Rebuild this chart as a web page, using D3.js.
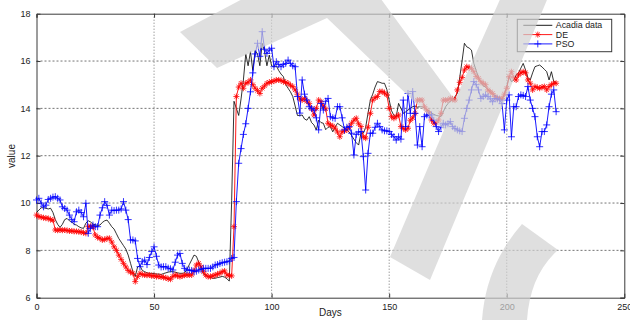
<!DOCTYPE html>
<html>
<head>
<meta charset="utf-8">
<script src="https://cdn.jsdelivr.net/npm/d3@7"></script>
<style>
  body { margin: 0; background: #fff; }
  text { font-family: "Liberation Sans", Arial, sans-serif; }
</style>
</head>
<body>
<svg id="chart" width="630" height="320"></svg>
<script>
// values, one per day (0..221)
const acadia = [
  9.6, 9.7, 9.8, 9.8, 9.78, 9.75, 9.78, 9.6, 9.3, 9.1,
  8.97, 9.1, 9.3, 9.35, 9.25, 9.2, 9.1, 9.07, 9.0, 8.95,
  8.93, 9.15, 9.25, 9.2, 9.11, 9.08, 9.05, 9.07, 9.18, 9.25,
  9.28, 9.15, 9.0, 8.9, 8.7, 8.5, 8.35, 8.2, 8.05, 7.8,
  7.45, 7.1, 6.9, 7.3, 7.35, 7.15, 7.1, 7.05, 7.03, 7.03,
  7.02, 7.0, 7.0, 6.98, 7.02, 7.05, 7.08, 7.1, 7.1, 7.08,
  7.05, 7.03, 7.03, 7.05, 7.2, 7.4, 7.6, 7.8, 7.75, 7.5,
  7.3, 7.0, 6.95, 6.9, 6.85, 6.82, 6.82, 6.85, 6.87, 6.9,
  6.87, 6.8, 6.7, 10.1, 14.3, 14.0, 13.7, 14.4, 15.2, 16.3,
  15.8, 16.4, 15.6, 16.45, 16.3, 15.8, 16.75, 16.4, 15.8, 16.25,
  15.8, 15.75, 15.8, 15.6, 15.45, 15.34, 15.0, 14.85, 14.7, 14.5,
  14.1, 13.7, 13.7, 13.72, 13.55, 13.5, 13.65, 13.4, 13.3, 13.09,
  13.5, 13.4, 13.37, 13.1, 13.2, 13.23, 13.01, 13.2, 13.37, 13.3,
  13.23, 13.15, 13.09, 13.0, 12.85, 12.7, 12.55, 12.45, 12.95, 12.95,
  13.2, 13.8, 14.35, 14.6, 14.9, 15.13, 15.1, 15.06, 15.06, 14.8,
  14.35, 13.9, 13.7, 13.65, 14.21, 14.0, 13.79, 13.85, 13.93, 14.0,
  14.07, 14.1, 14.05, 14.07, 14.07, 14.0, 13.95, 13.9, 13.8, 13.75,
  13.7, 13.68, 13.65, 13.85, 14.07, 14.2, 14.3, 14.35, 14.5, 14.63,
  15.3, 16.0, 16.75, 16.6, 16.55, 16.46, 15.9, 15.6, 15.3, 15.1,
  14.95, 14.9, 14.8, 14.75, 14.6, 14.55, 14.5, 14.45, 14.35, 14.6,
  14.92, 15.34, 15.13, 15.2, 15.4, 15.5, 15.7, 15.9, 15.62, 15.3,
  15.2, 15.5, 15.76, 15.8, 15.83, 15.75, 15.65, 15.55, 15.2, 15.55,
  15.13, 15.1
];

const de = [
  9.49, 9.43, 9.4, 9.38, 9.36, 9.35, 9.3, 9.28, 8.86, 8.85,
  8.86, 8.85, 8.86, 8.84, 8.82, 8.82, 8.8, 8.8, 8.79, 8.77,
  8.75, 8.72, 9.0, 9.02, 8.98, 8.65, 8.55, 8.51, 8.44, 8.46,
  8.5, 8.51, 8.35, 8.15, 8.0, 7.8, 7.62, 7.45, 7.3, 7.15,
  7.08, 7.03, 6.68, 6.89, 7.03, 6.98, 6.96, 6.95, 6.96, 6.92,
  6.93, 6.89, 6.9, 6.88, 6.86, 6.84, 6.8, 6.78, 6.9, 6.96,
  6.92, 6.89, 6.92, 6.95, 6.96, 6.96, 6.96, 7.15, 7.38, 7.45,
  7.3, 7.1, 6.95, 6.89, 6.89, 6.92, 6.96, 7.0, 7.03, 7.1,
  7.13, 6.96, 6.94, 6.92, 9.0, 14.5, 14.9, 15.06, 14.85, 15.06,
  15.1, 15.2, 15.0, 14.85, 14.75, 14.63, 14.85, 14.95, 15.06, 15.1,
  15.13, 15.15, 15.2, 15.2, 15.18, 15.13, 15.1, 15.06, 14.98, 14.92,
  14.78, 14.6, 14.4, 14.35, 14.42, 14.3, 14.21, 13.98, 13.72, 14.0,
  14.35, 14.28, 14.1, 13.98, 13.37, 13.3, 13.25, 13.16, 13.0, 12.8,
  13.01, 13.05, 13.09, 13.2, 13.37, 13.5, 13.58, 13.35, 13.23, 12.8,
  12.74, 13.2, 13.79, 14.35, 14.45, 14.5, 14.71, 14.71, 14.65, 14.57,
  14.0, 13.65, 13.58, 13.65, 13.72, 13.23, 13.15, 13.09, 13.16, 13.5,
  13.6, 13.79, 14.35, 14.35, 14.35, 14.07, 13.93, 13.8, 13.51, 13.37,
  13.4, 13.51, 13.79, 14.35, 14.35, 14.35, 14.42, 14.38, 14.35, 14.78,
  15.1, 15.3, 15.62, 15.76, 15.72, 15.69, 15.55, 15.35, 15.27, 15.13,
  15.06, 15.0, 14.78, 14.7, 14.63, 14.5, 14.42, 14.42, 14.42, 14.6,
  14.85, 15.34, 15.55, 15.3, 15.2, 15.41, 15.5, 15.55, 15.5, 15.2,
  15.06, 14.78, 14.92, 14.88, 14.85, 14.9, 14.92, 14.78, 14.92, 15.0,
  15.06, 15.06
];

const pso = [
  10.13, 10.2, 10.0, 9.84, 9.91, 10.15, 10.2, 10.25, 10.27, 10.2,
  10.13, 9.84, 9.77, 9.7, 9.49, 9.3, 9.21, 9.63, 9.7, 9.6,
  9.42, 9.99, 8.72, 8.93, 9.07, 9.0, 9.0, 9.49, 9.8, 10.06,
  9.9, 9.49, 9.7, 9.68, 9.7, 9.7, 9.75, 10.06, 9.7, 9.3,
  8.44, 8.44, 8.4, 7.66, 7.31, 7.52, 7.59, 7.4, 7.7, 7.95,
  8.15, 7.75, 7.38, 7.3, 7.31, 7.31, 7.25, 7.22, 7.17, 7.5,
  7.8, 7.87, 7.45, 7.24, 7.17, 7.17, 7.15, 7.1, 7.12, 7.17,
  7.2, 7.24, 7.24, 7.24, 7.24, 7.3, 7.38, 7.4, 7.45, 7.48,
  7.5, 7.52, 7.55, 7.66, 7.7, 10.06, 11.68, 12.3, 12.9, 13.35,
  14.0, 14.7, 15.5, 16.3, 16.75, 16.2, 17.24, 16.5, 16.32, 16.46,
  16.54, 15.76, 15.97, 15.85, 15.76, 15.85, 15.9, 16.04, 15.9, 15.8,
  15.76, 14.5, 13.8, 15.2, 14.6, 14.35, 14.07, 14.0, 13.93, 13.6,
  13.09, 14.21, 13.93, 14.3, 14.42, 13.65, 13.6, 13.58, 14.07, 14.07,
  13.6, 13.09, 13.2, 13.23, 12.95, 12.03, 12.9, 13.0, 13.02, 11.96,
  10.55, 12.1, 12.95, 12.95, 13.2, 13.37, 13.23, 13.09, 13.05, 13.05,
  13.02, 12.9, 12.8, 12.66, 12.8, 12.7, 14.35, 13.23, 14.63, 13.79,
  14.71, 13.79, 12.45, 13.23, 12.38, 13.65, 13.72, 13.72, 13.72, 13.5,
  13.23, 13.02, 13.2, 13.37, 13.3, 13.35, 13.44, 13.23, 13.15, 13.09,
  13.05, 13.02, 13.58, 14.0, 14.35, 14.78, 15.13, 15.0, 14.78, 14.42,
  14.5, 14.57, 14.5, 14.4, 14.28, 14.42, 14.4, 14.35, 14.2, 13.09,
  14.35, 14.57, 12.8, 14.07, 14.07, 14.5, 14.57, 14.55, 14.5, 14.92,
  14.35, 14.0, 13.65, 12.8, 12.38, 13.02, 13.02, 13.3, 14.07, 14.6,
  14.78, 13.86
];

const xTicks = [0, 50, 100, 150, 200, 250];
const yTicks = [6, 8, 10, 12, 14, 16, 18];
const seriesNames = ["Acadia data", "DE", "PSO"];

const width = 630;
const height = 320;
const margin = {top: 13.7, right: 5.7, bottom: 22.3, left: 36.5};
const innerW = width - margin.left - margin.right;
const innerH = height - margin.top - margin.bottom;

const svg = d3.select("#chart");
svg.append("rect").attr("width", width).attr("height", height).attr("fill", "#fff");

const g = svg.append("g").attr("transform", `translate(${margin.left},${margin.top})`);

const x = d3.scaleLinear().domain([0, 250]).range([0, innerW]);
const y = d3.scaleLinear().domain([6, 18]).range([innerH, 0]);

// grid (MATLAB dotted)
g.append("g")
  .selectAll("line")
  .data(xTicks.slice(1, -1))
  .join("line")
  .attr("x1", d => x(d)).attr("x2", d => x(d))
  .attr("y1", 0).attr("y2", innerH)
  .attr("stroke", "#505050").attr("stroke-width", 0.8)
  .attr("stroke-dasharray", "1,2");

g.append("g")
  .selectAll("line")
  .data(yTicks.slice(1, -1))
  .join("line")
  .attr("x1", 0).attr("x2", innerW)
  .attr("y1", d => y(d)).attr("y2", d => y(d))
  .attr("stroke", "#505050").attr("stroke-width", 0.8)
  .attr("stroke-dasharray", "2,2");

// axes
g.append("g")
  .attr("transform", `translate(0,${innerH})`)
  .call(d3.axisBottom(x).tickValues(xTicks).tickSize(-4).tickPadding(6).tickFormat(d3.format("d")));
g.append("g")
  .call(d3.axisLeft(y).tickValues(yTicks).tickSize(-4).tickPadding(6).tickFormat(d3.format("d")));
g.append("g").call(d3.axisTop(x).tickValues(xTicks).tickSize(-4).tickFormat(""));
g.append("g").attr("transform", `translate(${innerW},0)`)
  .call(d3.axisRight(y).tickValues(yTicks).tickSize(-4).tickFormat(""));

g.selectAll(".domain").attr("stroke", "#3a3a3a").attr("stroke-width", 1);
g.selectAll(".tick line").attr("stroke", "#3a3a3a");
g.selectAll(".tick text").attr("fill", "#222").attr("font-size", "9px");
g.selectAll(".tick").filter(d => d === 18 || d === 250).select("line").remove();

// labels
svg.append("text")
  .attr("x", margin.left + x(125))
  .attr("y", 316)
  .attr("text-anchor", "middle")
  .attr("font-size", "10px")
  .attr("fill", "#222")
  .text("Days");

svg.append("text")
  .attr("transform", "rotate(-90)")
  .attr("x", -156)
  .attr("y", 15)
  .attr("text-anchor", "middle")
  .attr("font-size", "10px")
  .attr("fill", "#222")
  .text("value");

// series
const days = d3.range(acadia.length);

function drawLine(values, color, w) {
  g.append("path")
    .datum(days)
    .attr("fill", "none")
    .attr("stroke", color)
    .attr("stroke-width", w)
    .attr("stroke-linejoin", "round")
    .attr("d", d3.line().x(i => x(i)).y(i => y(values[i])));
}

function plusPath(r) {
  return `M${-r},0H${r}M0,${-r}V${r}`;
}
function starPath(r) {
  const k = r * 0.72;
  return `M${-r},0H${r}M0,${-r}V${r}M${-k},${-k}L${k},${k}M${-k},${k}L${k},${-k}`;
}

function drawMarkers(values, color, shape) {
  g.append("g")
    .selectAll("path")
    .data(days)
    .join("path")
    .attr("transform", i => `translate(${x(i)},${y(values[i])})`)
    .attr("d", shape)
    .attr("fill", "none")
    .attr("stroke", color)
    .attr("stroke-width", 0.8);
}

drawLine(acadia, "#000", 0.8);
drawLine(de, "#ff0000", 0.9);
drawMarkers(de, "#ff0000", starPath(3));
drawLine(pso, "#0000ff", 0.9);
drawMarkers(pso, "#0000ff", plusPath(3.5));

// legend
const legend = svg.append("g").attr("transform", "translate(517.3,19.3)");
legend.append("rect")
  .attr("width", 94.4).attr("height", 32.4)
  .attr("fill", "#fff").attr("stroke", "#3a3a3a").attr("stroke-width", 1);

const legendColors = ["#000", "#ff0000", "#0000ff"];
const legendShapes = [null, starPath(3), plusPath(3.5)];
seriesNames.forEach((name, i) => {
  const ly = 6 + i * 9.3;
  legend.append("line")
    .attr("x1", 6).attr("x2", 35).attr("y1", ly).attr("y2", ly)
    .attr("stroke", legendColors[i]).attr("stroke-width", 0.9);
  if (legendShapes[i]) {
    legend.append("path")
      .attr("transform", `translate(20.5,${ly})`)
      .attr("d", legendShapes[i])
      .attr("fill", "none").attr("stroke", legendColors[i]).attr("stroke-width", 0.8);
  }
  legend.append("text")
    .attr("x", 38.5).attr("y", ly + 3.1)
    .attr("font-size", "8.8px")
    .attr("fill", "#222")
    .text(name);
});

// watermark overlay
const wm = svg.append("g").attr("fill", "#d2d2d2").attr("fill-opacity", 0.7);
wm.append("path")
  .attr("d", "M180,32L250,-5L378,-5L455,100L502,-5L549,-5L430,280L390,257L444,130L327,18L217,68Z");
wm.append("path")
  .attr("d", "M480,330L482,320Q486,265 522,224L558,250Q530,275 527,320L527,330Z");
</script>
</body>
</html>
